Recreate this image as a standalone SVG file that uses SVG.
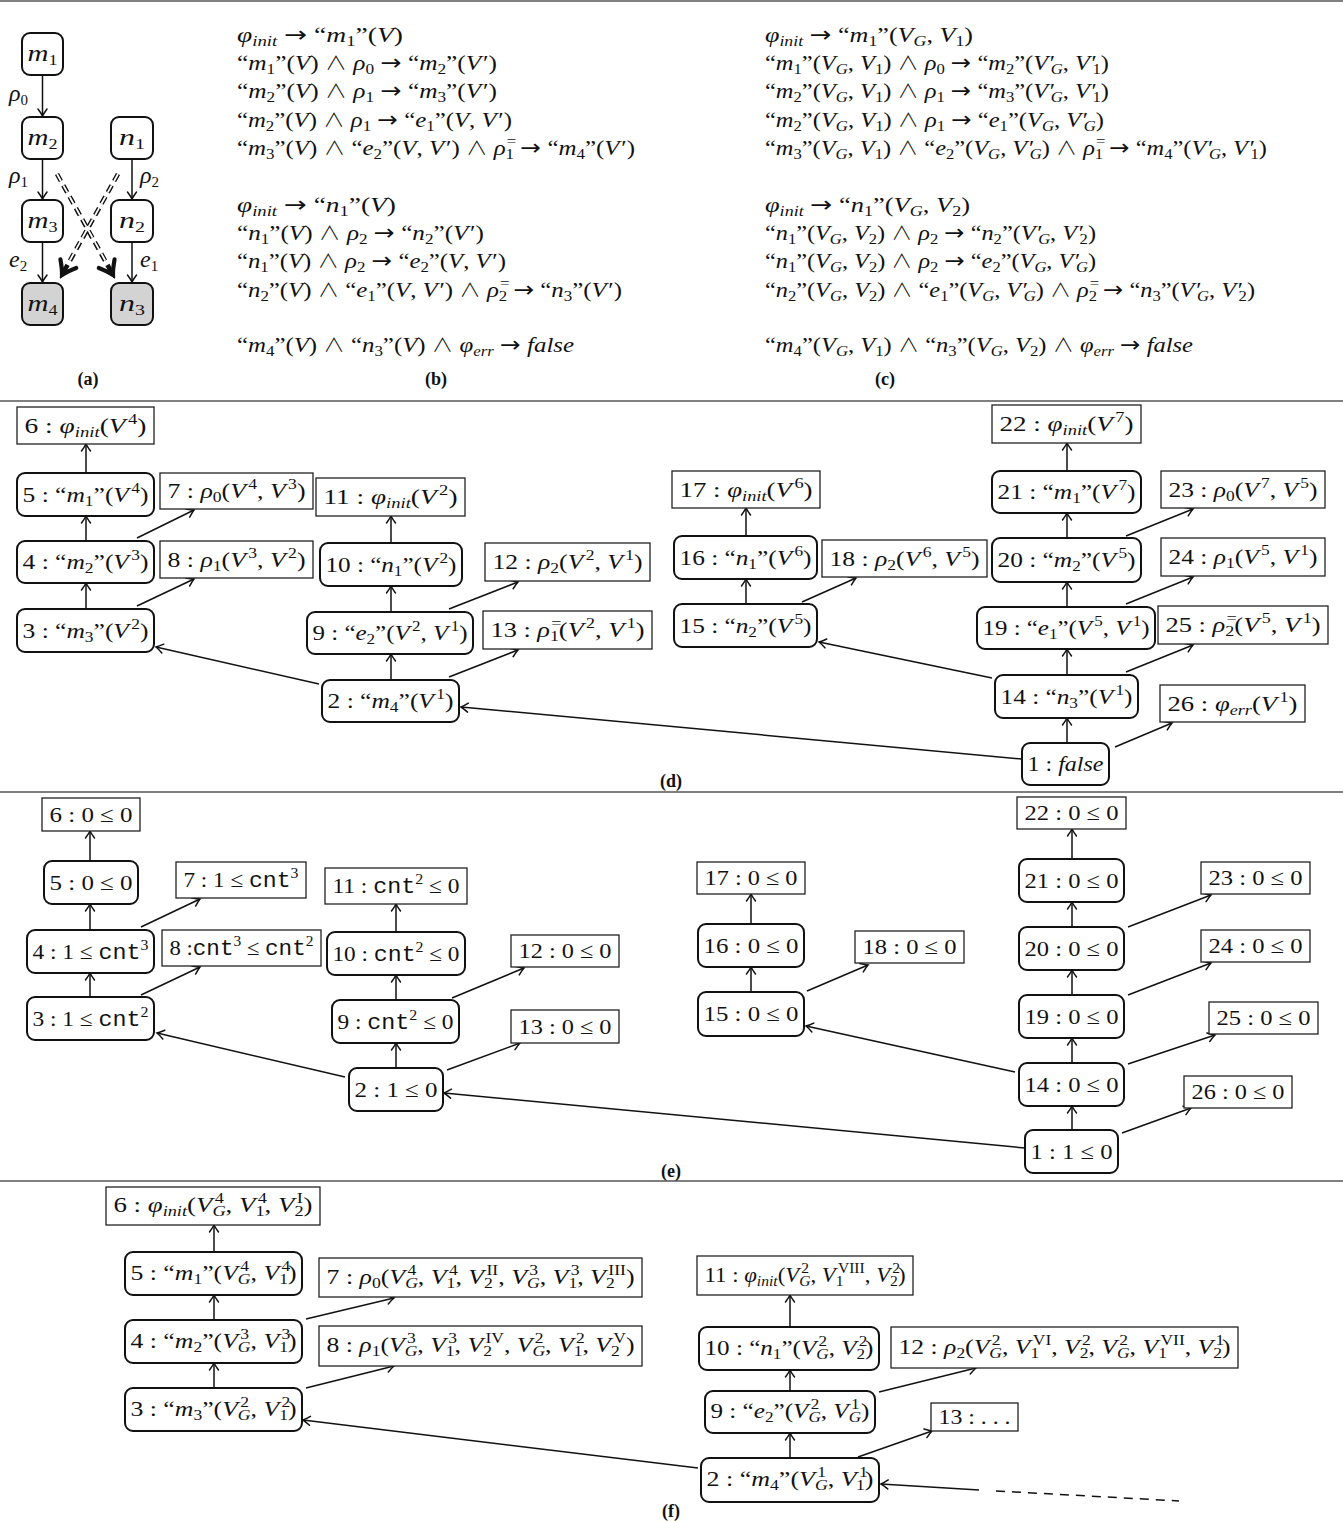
<svg xmlns="http://www.w3.org/2000/svg" width="1343" height="1521" viewBox="0 0 1343 1521">
<defs>
<style>
.t{font-family:"Liberation Serif","DejaVu Serif",serif;font-size:22px;fill:#111}
.ta{font-family:"Liberation Serif","DejaVu Serif",serif;font-size:24px;fill:#111}
.i{font-style:italic}
.sb{font-size:15px;baseline-shift:-4px}
.sp{font-size:15px;baseline-shift:9px}
.op{font-family:"Noto Sans CJK SC","DejaVu Sans",sans-serif;font-weight:300;font-size:19px}
.ar{font-family:"DejaVu Sans",sans-serif;font-weight:normal}
.tt{font-family:"Liberation Mono","DejaVu Sans Mono",monospace}
.cap{font-family:"Liberation Serif","DejaVu Serif",serif;font-weight:bold;font-size:18px;fill:#111}
.sep{stroke:#555;stroke-width:1.3}
.rb{fill:#fff;stroke:#111;stroke-width:2}
.sq{fill:#fff;stroke:#222;stroke-width:1.3}
.gr{fill:#d3d3d3;stroke:#111;stroke-width:2}
.e{stroke:#111;stroke-width:1.5;fill:none;marker-end:url(#ah)}
.dblk{stroke:#111;stroke-width:4.6;stroke-dasharray:8 5;fill:none}
.dblw{stroke:#fff;stroke-width:1.8;stroke-dasharray:8 5;fill:none}
</style>
<marker id="ah" viewBox="-10 -6 12 12" refX="0" refY="0" markerWidth="12" markerHeight="12" markerUnits="userSpaceOnUse" orient="auto"><path d="M-7,-4.5 Q-2.5,-1.2 0,0 Q-2.5,1.2 -7,4.5" fill="none" stroke="#111" stroke-width="1.5" stroke-linecap="round"/></marker>
<marker id="ahb" viewBox="-16 -12 20 24" refX="0" refY="0" markerWidth="20" markerHeight="24" markerUnits="userSpaceOnUse" orient="auto"><path d="M-13,-9 Q-5,-2.5 0,0 Q-5,2.5 -13,9" fill="none" stroke="#111" stroke-width="4.2" stroke-linecap="round"/></marker>
</defs>
<rect width="1343" height="1521" fill="#fff"/>
<g id="separators">
<line class="sep" x1="0" y1="1" x2="1343" y2="1"/>
<line class="sep" x1="0" y1="401" x2="1343" y2="401"/>
<line class="sep" x1="0" y1="792" x2="1343" y2="792"/>
<line class="sep" x1="0" y1="1181" x2="1343" y2="1181"/>
</g>

<!-- Panel (a) -->
<g id="a-m1"><rect class="rb" x="22" y="33" width="41" height="42" rx="8"/><text class="ta" x="42.5" y="61" text-anchor="middle" textLength="30" lengthAdjust="spacingAndGlyphs"><tspan class="i">m</tspan><tspan class="sb">1</tspan></text></g>
<g id="a-m2"><rect class="rb" x="22" y="117" width="41" height="42" rx="8"/><text class="ta" x="42.5" y="145" text-anchor="middle" textLength="30" lengthAdjust="spacingAndGlyphs"><tspan class="i">m</tspan><tspan class="sb">2</tspan></text></g>
<g id="a-n1"><rect class="rb" x="111" y="117" width="42" height="42" rx="8"/><text class="ta" x="132" y="145" text-anchor="middle" textLength="26" lengthAdjust="spacingAndGlyphs"><tspan class="i">n</tspan><tspan class="sb">1</tspan></text></g>
<g id="a-m3"><rect class="rb" x="22" y="200" width="41" height="42" rx="8"/><text class="ta" x="42.5" y="228" text-anchor="middle" textLength="30" lengthAdjust="spacingAndGlyphs"><tspan class="i">m</tspan><tspan class="sb">3</tspan></text></g>
<g id="a-n2"><rect class="rb" x="111" y="200" width="42" height="42" rx="8"/><text class="ta" x="132" y="228" text-anchor="middle" textLength="26" lengthAdjust="spacingAndGlyphs"><tspan class="i">n</tspan><tspan class="sb">2</tspan></text></g>
<g id="a-m4"><rect class="gr" x="22" y="283" width="41" height="42" rx="8"/><text class="ta" x="42.5" y="311" text-anchor="middle" textLength="30" lengthAdjust="spacingAndGlyphs"><tspan class="i">m</tspan><tspan class="sb">4</tspan></text></g>
<g id="a-n3"><rect class="gr" x="111" y="283" width="42" height="42" rx="8"/><text class="ta" x="132" y="311" text-anchor="middle" textLength="26" lengthAdjust="spacingAndGlyphs"><tspan class="i">n</tspan><tspan class="sb">3</tspan></text></g>
<g id="a-labels">
<text class="ta" x="9" y="101"><tspan class="i">ρ</tspan><tspan class="sb">0</tspan></text>
<text class="ta" x="9" y="183"><tspan class="i">ρ</tspan><tspan class="sb">1</tspan></text>
<text class="ta" x="9" y="267"><tspan class="i">e</tspan><tspan class="sb">2</tspan></text>
<text class="ta" x="140" y="183"><tspan class="i">ρ</tspan><tspan class="sb">2</tspan></text>
<text class="ta" x="140" y="267"><tspan class="i">e</tspan><tspan class="sb">1</tspan></text>
</g>

<!-- Panel (b) -->
<g id="b-rules">
<text class="t" x="237" y="42" textLength="166" lengthAdjust="spacingAndGlyphs"><tspan class="i">φ</tspan><tspan class="sb i">init</tspan> <tspan class="ar">→</tspan> “<tspan class="i">m</tspan><tspan class="sb">1</tspan>”(<tspan class="i">V</tspan>)</text>
<text class="t" x="237" y="70" textLength="260" lengthAdjust="spacingAndGlyphs">“<tspan class="i">m</tspan><tspan class="sb">1</tspan>”(<tspan class="i">V</tspan>) <tspan class="op">∧</tspan> <tspan class="i">ρ</tspan><tspan class="sb">0</tspan> <tspan class="ar">→</tspan> “<tspan class="i">m</tspan><tspan class="sb">2</tspan>”(<tspan class="i">V</tspan><tspan dx="1.5">′</tspan>)</text>
<text class="t" x="237" y="98" textLength="260" lengthAdjust="spacingAndGlyphs">“<tspan class="i">m</tspan><tspan class="sb">2</tspan>”(<tspan class="i">V</tspan>) <tspan class="op">∧</tspan> <tspan class="i">ρ</tspan><tspan class="sb">1</tspan> <tspan class="ar">→</tspan> “<tspan class="i">m</tspan><tspan class="sb">3</tspan>”(<tspan class="i">V</tspan><tspan dx="1.5">′</tspan>)</text>
<text class="t" x="237" y="127" textLength="275" lengthAdjust="spacingAndGlyphs">“<tspan class="i">m</tspan><tspan class="sb">2</tspan>”(<tspan class="i">V</tspan>) <tspan class="op">∧</tspan> <tspan class="i">ρ</tspan><tspan class="sb">1</tspan> <tspan class="ar">→</tspan> “<tspan class="i">e</tspan><tspan class="sb">1</tspan>”(<tspan class="i">V</tspan>, <tspan class="i">V</tspan><tspan dx="1.5">′</tspan>)</text>
<text class="t" x="237" y="155" textLength="398" lengthAdjust="spacingAndGlyphs">“<tspan class="i">m</tspan><tspan class="sb">3</tspan>”(<tspan class="i">V</tspan>) <tspan class="op">∧</tspan> “<tspan class="i">e</tspan><tspan class="sb">2</tspan>”(<tspan class="i">V</tspan>, <tspan class="i">V</tspan><tspan dx="1.5">′</tspan>) <tspan class="op">∧</tspan> <tspan class="i">ρ</tspan><tspan class="sp" dx="1">=</tspan><tspan class="sb" dx="-9.5">1</tspan> <tspan class="ar">→</tspan> “<tspan class="i">m</tspan><tspan class="sb">4</tspan>”(<tspan class="i">V</tspan><tspan dx="1.5">′</tspan>)</text>
<text class="t" x="237" y="212" textLength="159" lengthAdjust="spacingAndGlyphs"><tspan class="i">φ</tspan><tspan class="sb i">init</tspan> <tspan class="ar">→</tspan> “<tspan class="i">n</tspan><tspan class="sb">1</tspan>”(<tspan class="i">V</tspan>)</text>
<text class="t" x="237" y="240" textLength="247" lengthAdjust="spacingAndGlyphs">“<tspan class="i">n</tspan><tspan class="sb">1</tspan>”(<tspan class="i">V</tspan>) <tspan class="op">∧</tspan> <tspan class="i">ρ</tspan><tspan class="sb">2</tspan> <tspan class="ar">→</tspan> “<tspan class="i">n</tspan><tspan class="sb">2</tspan>”(<tspan class="i">V</tspan><tspan dx="1.5">′</tspan>)</text>
<text class="t" x="237" y="268" textLength="269" lengthAdjust="spacingAndGlyphs">“<tspan class="i">n</tspan><tspan class="sb">1</tspan>”(<tspan class="i">V</tspan>) <tspan class="op">∧</tspan> <tspan class="i">ρ</tspan><tspan class="sb">2</tspan> <tspan class="ar">→</tspan> “<tspan class="i">e</tspan><tspan class="sb">2</tspan>”(<tspan class="i">V</tspan>, <tspan class="i">V</tspan><tspan dx="1.5">′</tspan>)</text>
<text class="t" x="237" y="297" textLength="385" lengthAdjust="spacingAndGlyphs">“<tspan class="i">n</tspan><tspan class="sb">2</tspan>”(<tspan class="i">V</tspan>) <tspan class="op">∧</tspan> “<tspan class="i">e</tspan><tspan class="sb">1</tspan>”(<tspan class="i">V</tspan>, <tspan class="i">V</tspan><tspan dx="1.5">′</tspan>) <tspan class="op">∧</tspan> <tspan class="i">ρ</tspan><tspan class="sp" dx="1">=</tspan><tspan class="sb" dx="-9.5">2</tspan> <tspan class="ar">→</tspan> “<tspan class="i">n</tspan><tspan class="sb">3</tspan>”(<tspan class="i">V</tspan><tspan dx="1.5">′</tspan>)</text>
<text class="t" x="237" y="352" textLength="337" lengthAdjust="spacingAndGlyphs">“<tspan class="i">m</tspan><tspan class="sb">4</tspan>”(<tspan class="i">V</tspan>) <tspan class="op">∧</tspan> “<tspan class="i">n</tspan><tspan class="sb">3</tspan>”(<tspan class="i">V</tspan>) <tspan class="op">∧</tspan> <tspan class="i">φ</tspan><tspan class="sb i">err</tspan> <tspan class="ar">→</tspan> <tspan class="i">false</tspan></text>
</g>

<!-- Panel (c) -->
<g id="c-rules">
<text class="t" x="765" y="42" textLength="208" lengthAdjust="spacingAndGlyphs"><tspan class="i">φ</tspan><tspan class="sb i">init</tspan> <tspan class="ar">→</tspan> “<tspan class="i">m</tspan><tspan class="sb">1</tspan>”(<tspan class="i">V</tspan><tspan class="sb i">G</tspan>, <tspan class="i">V</tspan><tspan class="sb">1</tspan>)</text>
<text class="t" x="765" y="70" textLength="344" lengthAdjust="spacingAndGlyphs">“<tspan class="i">m</tspan><tspan class="sb">1</tspan>”(<tspan class="i">V</tspan><tspan class="sb i">G</tspan>, <tspan class="i">V</tspan><tspan class="sb">1</tspan>) <tspan class="op">∧</tspan> <tspan class="i">ρ</tspan><tspan class="sb">0</tspan> <tspan class="ar">→</tspan> “<tspan class="i">m</tspan><tspan class="sb">2</tspan>”(<tspan class="i">V</tspan><tspan dx="1.5">′</tspan><tspan class="sb i" dx="-4">G</tspan>, <tspan class="i">V</tspan><tspan dx="1.5">′</tspan><tspan class="sb" dx="-4">1</tspan>)</text>
<text class="t" x="765" y="98" textLength="344" lengthAdjust="spacingAndGlyphs">“<tspan class="i">m</tspan><tspan class="sb">2</tspan>”(<tspan class="i">V</tspan><tspan class="sb i">G</tspan>, <tspan class="i">V</tspan><tspan class="sb">1</tspan>) <tspan class="op">∧</tspan> <tspan class="i">ρ</tspan><tspan class="sb">1</tspan> <tspan class="ar">→</tspan> “<tspan class="i">m</tspan><tspan class="sb">3</tspan>”(<tspan class="i">V</tspan><tspan dx="1.5">′</tspan><tspan class="sb i" dx="-4">G</tspan>, <tspan class="i">V</tspan><tspan dx="1.5">′</tspan><tspan class="sb" dx="-4">1</tspan>)</text>
<text class="t" x="765" y="127" textLength="339" lengthAdjust="spacingAndGlyphs">“<tspan class="i">m</tspan><tspan class="sb">2</tspan>”(<tspan class="i">V</tspan><tspan class="sb i">G</tspan>, <tspan class="i">V</tspan><tspan class="sb">1</tspan>) <tspan class="op">∧</tspan> <tspan class="i">ρ</tspan><tspan class="sb">1</tspan> <tspan class="ar">→</tspan> “<tspan class="i">e</tspan><tspan class="sb">1</tspan>”(<tspan class="i">V</tspan><tspan class="sb i">G</tspan>, <tspan class="i">V</tspan><tspan dx="1.5">′</tspan><tspan class="sb i" dx="-4">G</tspan>)</text>
<text class="t" x="765" y="155" textLength="502" lengthAdjust="spacingAndGlyphs">“<tspan class="i">m</tspan><tspan class="sb">3</tspan>”(<tspan class="i">V</tspan><tspan class="sb i">G</tspan>, <tspan class="i">V</tspan><tspan class="sb">1</tspan>) <tspan class="op">∧</tspan> “<tspan class="i">e</tspan><tspan class="sb">2</tspan>”(<tspan class="i">V</tspan><tspan class="sb i">G</tspan>, <tspan class="i">V</tspan><tspan dx="1.5">′</tspan><tspan class="sb i" dx="-4">G</tspan>) <tspan class="op">∧</tspan> <tspan class="i">ρ</tspan><tspan class="sp" dx="1">=</tspan><tspan class="sb" dx="-9.5">1</tspan> <tspan class="ar">→</tspan> “<tspan class="i">m</tspan><tspan class="sb">4</tspan>”(<tspan class="i">V</tspan><tspan dx="1.5">′</tspan><tspan class="sb i" dx="-4">G</tspan>, <tspan class="i">V</tspan><tspan dx="1.5">′</tspan><tspan class="sb" dx="-4">1</tspan>)</text>
<text class="t" x="765" y="212" textLength="205" lengthAdjust="spacingAndGlyphs"><tspan class="i">φ</tspan><tspan class="sb i">init</tspan> <tspan class="ar">→</tspan> “<tspan class="i">n</tspan><tspan class="sb">1</tspan>”(<tspan class="i">V</tspan><tspan class="sb i">G</tspan>, <tspan class="i">V</tspan><tspan class="sb">2</tspan>)</text>
<text class="t" x="765" y="240" textLength="331" lengthAdjust="spacingAndGlyphs">“<tspan class="i">n</tspan><tspan class="sb">1</tspan>”(<tspan class="i">V</tspan><tspan class="sb i">G</tspan>, <tspan class="i">V</tspan><tspan class="sb">2</tspan>) <tspan class="op">∧</tspan> <tspan class="i">ρ</tspan><tspan class="sb">2</tspan> <tspan class="ar">→</tspan> “<tspan class="i">n</tspan><tspan class="sb">2</tspan>”(<tspan class="i">V</tspan><tspan dx="1.5">′</tspan><tspan class="sb i" dx="-4">G</tspan>, <tspan class="i">V</tspan><tspan dx="1.5">′</tspan><tspan class="sb" dx="-4">2</tspan>)</text>
<text class="t" x="765" y="268" textLength="331" lengthAdjust="spacingAndGlyphs">“<tspan class="i">n</tspan><tspan class="sb">1</tspan>”(<tspan class="i">V</tspan><tspan class="sb i">G</tspan>, <tspan class="i">V</tspan><tspan class="sb">2</tspan>) <tspan class="op">∧</tspan> <tspan class="i">ρ</tspan><tspan class="sb">2</tspan> <tspan class="ar">→</tspan> “<tspan class="i">e</tspan><tspan class="sb">2</tspan>”(<tspan class="i">V</tspan><tspan class="sb i">G</tspan>, <tspan class="i">V</tspan><tspan dx="1.5">′</tspan><tspan class="sb i" dx="-4">G</tspan>)</text>
<text class="t" x="765" y="297" textLength="490" lengthAdjust="spacingAndGlyphs">“<tspan class="i">n</tspan><tspan class="sb">2</tspan>”(<tspan class="i">V</tspan><tspan class="sb i">G</tspan>, <tspan class="i">V</tspan><tspan class="sb">2</tspan>) <tspan class="op">∧</tspan> “<tspan class="i">e</tspan><tspan class="sb">1</tspan>”(<tspan class="i">V</tspan><tspan class="sb i">G</tspan>, <tspan class="i">V</tspan><tspan dx="1.5">′</tspan><tspan class="sb i" dx="-4">G</tspan>) <tspan class="op">∧</tspan> <tspan class="i">ρ</tspan><tspan class="sp" dx="1">=</tspan><tspan class="sb" dx="-9.5">2</tspan> <tspan class="ar">→</tspan> “<tspan class="i">n</tspan><tspan class="sb">3</tspan>”(<tspan class="i">V</tspan><tspan dx="1.5">′</tspan><tspan class="sb i" dx="-4">G</tspan>, <tspan class="i">V</tspan><tspan dx="1.5">′</tspan><tspan class="sb" dx="-4">2</tspan>)</text>
<text class="t" x="765" y="352" textLength="428" lengthAdjust="spacingAndGlyphs">“<tspan class="i">m</tspan><tspan class="sb">4</tspan>”(<tspan class="i">V</tspan><tspan class="sb i">G</tspan>, <tspan class="i">V</tspan><tspan class="sb">1</tspan>) <tspan class="op">∧</tspan> “<tspan class="i">n</tspan><tspan class="sb">3</tspan>”(<tspan class="i">V</tspan><tspan class="sb i">G</tspan>, <tspan class="i">V</tspan><tspan class="sb">2</tspan>) <tspan class="op">∧</tspan> <tspan class="i">φ</tspan><tspan class="sb i">err</tspan> <tspan class="ar">→</tspan> <tspan class="i">false</tspan></text>
</g>

<g id="captions">
<text class="cap" x="88" y="385" text-anchor="middle">(a)</text>
<text class="cap" x="436" y="385" text-anchor="middle">(b)</text>
<text class="cap" x="885" y="385" text-anchor="middle">(c)</text>
<text class="cap" x="671" y="787" text-anchor="middle">(d)</text>
<text class="cap" x="671" y="1177" text-anchor="middle">(e)</text>
<text class="cap" x="671" y="1517" text-anchor="middle">(f)</text>
</g>

<!-- Connectors -->
<g id="connectors">
<line class="e" x1="42.5" y1="75" x2="42.5" y2="116"/>
<line class="e" x1="42.5" y1="159" x2="42.5" y2="199"/>
<line class="e" x1="42.5" y1="242" x2="42.5" y2="282"/>
<line class="e" x1="132" y1="159" x2="132" y2="199"/>
<line class="e" x1="132" y1="242" x2="132" y2="282"/>
<line class="dblk" x1="57" y1="174" x2="113" y2="275" marker-end="url(#ahb)"/>
<line class="dblw" x1="57" y1="174" x2="106" y2="262"/>
<line class="dblk" x1="118" y1="174" x2="62" y2="275" marker-end="url(#ahb)"/>
<line class="dblw" x1="118" y1="174" x2="69" y2="262"/>

<line class="e" x1="86" y1="473" x2="86" y2="444"/>
<line class="e" x1="86" y1="541" x2="86" y2="516"/>
<line class="e" x1="86" y1="609" x2="86" y2="583"/>
<line class="e" x1="137" y1="538" x2="194" y2="510"/>
<line class="e" x1="137" y1="606" x2="194" y2="579"/>
<line class="e" x1="391" y1="543" x2="391" y2="516"/>
<line class="e" x1="391" y1="612" x2="391" y2="586"/>
<line class="e" x1="449" y1="609" x2="518" y2="582"/>
<line class="e" x1="391" y1="680" x2="391" y2="654"/>
<line class="e" x1="449" y1="677" x2="518" y2="650"/>
<line class="e" x1="319" y1="684" x2="156" y2="647"/>
<line class="e" x1="1022" y1="759" x2="461" y2="707"/>
<line class="e" x1="746" y1="536" x2="746" y2="508"/>
<line class="e" x1="746" y1="604" x2="746" y2="579"/>
<line class="e" x1="802" y1="602" x2="856" y2="578"/>
<line class="e" x1="1067" y1="471" x2="1067" y2="443"/>
<line class="e" x1="1067" y1="538" x2="1067" y2="513"/>
<line class="e" x1="1126" y1="536" x2="1193" y2="509"/>
<line class="e" x1="1067" y1="607" x2="1067" y2="582"/>
<line class="e" x1="1126" y1="604" x2="1193" y2="577"/>
<line class="e" x1="1067" y1="675" x2="1067" y2="649"/>
<line class="e" x1="1126" y1="672" x2="1193" y2="645"/>
<line class="e" x1="992" y1="678" x2="819" y2="642"/>
<line class="e" x1="1067" y1="743" x2="1067" y2="718"/>
<line class="e" x1="1115" y1="747" x2="1172" y2="723"/>

<line class="e" x1="90" y1="861" x2="90" y2="831"/>
<line class="e" x1="90" y1="930" x2="90" y2="904"/>
<line class="e" x1="90" y1="997" x2="90" y2="973"/>
<line class="e" x1="141" y1="927" x2="200" y2="899"/>
<line class="e" x1="141" y1="995" x2="200" y2="967"/>
<line class="e" x1="396" y1="932" x2="396" y2="904"/>
<line class="e" x1="396" y1="1000" x2="396" y2="975"/>
<line class="e" x1="452" y1="998" x2="524" y2="968"/>
<line class="e" x1="396" y1="1068" x2="396" y2="1043"/>
<line class="e" x1="447" y1="1070" x2="520" y2="1043"/>
<line class="e" x1="345" y1="1077" x2="157" y2="1033"/>
<line class="e" x1="1025" y1="1148" x2="444" y2="1093"/>
<line class="e" x1="751" y1="924" x2="751" y2="894"/>
<line class="e" x1="751" y1="992" x2="751" y2="967"/>
<line class="e" x1="807" y1="991" x2="868" y2="965"/>
<line class="e" x1="1072" y1="859" x2="1072" y2="829"/>
<line class="e" x1="1072" y1="927" x2="1072" y2="902"/>
<line class="e" x1="1128" y1="927" x2="1211" y2="895"/>
<line class="e" x1="1072" y1="995" x2="1072" y2="970"/>
<line class="e" x1="1128" y1="995" x2="1211" y2="963"/>
<line class="e" x1="1072" y1="1063" x2="1072" y2="1038"/>
<line class="e" x1="1128" y1="1064" x2="1215" y2="1035"/>
<line class="e" x1="1015" y1="1072" x2="806" y2="1026"/>
<line class="e" x1="1072" y1="1130" x2="1072" y2="1106"/>
<line class="e" x1="1122" y1="1133" x2="1191" y2="1108"/>

<line class="e" x1="214" y1="1252" x2="214" y2="1225"/>
<line class="e" x1="214" y1="1320" x2="214" y2="1295"/>
<line class="e" x1="214" y1="1388" x2="214" y2="1363"/>
<line class="e" x1="306" y1="1319" x2="394" y2="1298"/>
<line class="e" x1="306" y1="1388" x2="394" y2="1366"/>
<line class="e" x1="698" y1="1468" x2="303" y2="1420"/>
<line class="e" x1="790" y1="1327" x2="790" y2="1295"/>
<line class="e" x1="790" y1="1391" x2="790" y2="1370"/>
<line class="e" x1="790" y1="1458" x2="790" y2="1433"/>
<line class="e" x1="879" y1="1392" x2="976" y2="1368"/>
<line class="e" x1="858" y1="1457" x2="932" y2="1431"/>
<line class="e" x1="979" y1="1490" x2="881" y2="1484"/>
<line x1="996" y1="1491" x2="1179" y2="1501" stroke="#111" stroke-width="1.5" stroke-dasharray="9 7"/>
</g>

<!-- Panel (d) nodes -->
<g id="d6"><rect class="sq" x="17" y="407" width="137" height="37"/><text class="t" x="85.5" y="432.5" text-anchor="middle" textLength="122" lengthAdjust="spacingAndGlyphs">6 : <tspan class="i">φ</tspan><tspan class="sb i">init</tspan>(<tspan class="i">V</tspan><tspan class="sp" dx="2">4</tspan>)</text></g>
<g id="d5"><rect class="rb" x="17" y="473" width="137" height="43" rx="8"/><text class="t" x="85.5" y="501.5" text-anchor="middle" textLength="126" lengthAdjust="spacingAndGlyphs">5 : “<tspan class="i">m</tspan><tspan class="sb">1</tspan>”(<tspan class="i">V</tspan><tspan class="sp" dx="2">4</tspan>)</text></g>
<g id="d7"><rect class="sq" x="160" y="473" width="153" height="36"/><text class="t" x="236.5" y="498" text-anchor="middle" textLength="138" lengthAdjust="spacingAndGlyphs">7 : <tspan class="i">ρ</tspan><tspan class="sb">0</tspan>(<tspan class="i">V</tspan><tspan class="sp" dx="2">4</tspan>, <tspan class="i">V</tspan><tspan class="sp" dx="2">3</tspan>)</text></g>
<g id="d11"><rect class="sq" x="316" y="478" width="149" height="38"/><text class="t" x="390.5" y="504" text-anchor="middle" textLength="134" lengthAdjust="spacingAndGlyphs">11 : <tspan class="i">φ</tspan><tspan class="sb i">init</tspan>(<tspan class="i">V</tspan><tspan class="sp" dx="2">2</tspan>)</text></g>
<g id="d4"><rect class="rb" x="17" y="541" width="137" height="42" rx="8"/><text class="t" x="85.5" y="569" text-anchor="middle" textLength="126" lengthAdjust="spacingAndGlyphs">4 : “<tspan class="i">m</tspan><tspan class="sb">2</tspan>”(<tspan class="i">V</tspan><tspan class="sp" dx="2">3</tspan>)</text></g>
<g id="d8"><rect class="sq" x="160" y="541" width="153" height="37"/><text class="t" x="236.5" y="566.5" text-anchor="middle" textLength="138" lengthAdjust="spacingAndGlyphs">8 : <tspan class="i">ρ</tspan><tspan class="sb">1</tspan>(<tspan class="i">V</tspan><tspan class="sp" dx="2">3</tspan>, <tspan class="i">V</tspan><tspan class="sp" dx="2">2</tspan>)</text></g>
<g id="d10"><rect class="rb" x="320" y="543" width="142" height="43" rx="8"/><text class="t" x="391" y="571.5" text-anchor="middle" textLength="131" lengthAdjust="spacingAndGlyphs">10 : “<tspan class="i">n</tspan><tspan class="sb">1</tspan>”(<tspan class="i">V</tspan><tspan class="sp" dx="2">2</tspan>)</text></g>
<g id="d12"><rect class="sq" x="485" y="543" width="165" height="38"/><text class="t" x="567.5" y="569" text-anchor="middle" textLength="150" lengthAdjust="spacingAndGlyphs">12 : <tspan class="i">ρ</tspan><tspan class="sb">2</tspan>(<tspan class="i">V</tspan><tspan class="sp" dx="2">2</tspan>, <tspan class="i">V</tspan><tspan class="sp" dx="2">1</tspan>)</text></g>
<g id="d3"><rect class="rb" x="17" y="609" width="137" height="43" rx="8"/><text class="t" x="85.5" y="637.5" text-anchor="middle" textLength="126" lengthAdjust="spacingAndGlyphs">3 : “<tspan class="i">m</tspan><tspan class="sb">3</tspan>”(<tspan class="i">V</tspan><tspan class="sp" dx="2">2</tspan>)</text></g>
<g id="d9"><rect class="rb" x="307" y="612" width="166" height="42" rx="8"/><text class="t" x="390" y="640" text-anchor="middle" textLength="155" lengthAdjust="spacingAndGlyphs">9 : “<tspan class="i">e</tspan><tspan class="sb">2</tspan>”(<tspan class="i">V</tspan><tspan class="sp" dx="2">2</tspan>, <tspan class="i">V</tspan><tspan class="sp" dx="2">1</tspan>)</text></g>
<g id="d13"><rect class="sq" x="483" y="611" width="169" height="38"/><text class="t" x="567.5" y="637" text-anchor="middle" textLength="154" lengthAdjust="spacingAndGlyphs">13 : <tspan class="i">ρ</tspan><tspan class="sp" dx="1">=</tspan><tspan class="sb" dx="-9.5">1</tspan>(<tspan class="i">V</tspan><tspan class="sp" dx="2">2</tspan>, <tspan class="i">V</tspan><tspan class="sp" dx="2">1</tspan>)</text></g>
<g id="d2"><rect class="rb" x="322" y="680" width="137" height="42" rx="8"/><text class="t" x="390.5" y="708" text-anchor="middle" textLength="126" lengthAdjust="spacingAndGlyphs">2 : “<tspan class="i">m</tspan><tspan class="sb">4</tspan>”(<tspan class="i">V</tspan><tspan class="sp" dx="2">1</tspan>)</text></g>
<g id="d17"><rect class="sq" x="672" y="471" width="148" height="37"/><text class="t" x="746" y="496.5" text-anchor="middle" textLength="133" lengthAdjust="spacingAndGlyphs">17 : <tspan class="i">φ</tspan><tspan class="sb i">init</tspan>(<tspan class="i">V</tspan><tspan class="sp" dx="2">6</tspan>)</text></g>
<g id="d16"><rect class="rb" x="674" y="536" width="143" height="43" rx="8"/><text class="t" x="745.5" y="564.5" text-anchor="middle" textLength="132" lengthAdjust="spacingAndGlyphs">16 : “<tspan class="i">n</tspan><tspan class="sb">1</tspan>”(<tspan class="i">V</tspan><tspan class="sp" dx="2">6</tspan>)</text></g>
<g id="d18"><rect class="sq" x="822" y="540" width="165" height="37"/><text class="t" x="904.5" y="565.5" text-anchor="middle" textLength="150" lengthAdjust="spacingAndGlyphs">18 : <tspan class="i">ρ</tspan><tspan class="sb">2</tspan>(<tspan class="i">V</tspan><tspan class="sp" dx="2">6</tspan>, <tspan class="i">V</tspan><tspan class="sp" dx="2">5</tspan>)</text></g>
<g id="d15"><rect class="rb" x="674" y="604" width="143" height="43" rx="8"/><text class="t" x="745.5" y="632.5" text-anchor="middle" textLength="132" lengthAdjust="spacingAndGlyphs">15 : “<tspan class="i">n</tspan><tspan class="sb">2</tspan>”(<tspan class="i">V</tspan><tspan class="sp" dx="2">5</tspan>)</text></g>
<g id="d22"><rect class="sq" x="992" y="405" width="149" height="38"/><text class="t" x="1066.5" y="431" text-anchor="middle" textLength="134" lengthAdjust="spacingAndGlyphs">22 : <tspan class="i">φ</tspan><tspan class="sb i">init</tspan>(<tspan class="i">V</tspan><tspan class="sp" dx="2">7</tspan>)</text></g>
<g id="d21"><rect class="rb" x="992" y="471" width="149" height="42" rx="8"/><text class="t" x="1066.5" y="499" text-anchor="middle" textLength="138" lengthAdjust="spacingAndGlyphs">21 : “<tspan class="i">m</tspan><tspan class="sb">1</tspan>”(<tspan class="i">V</tspan><tspan class="sp" dx="2">7</tspan>)</text></g>
<g id="d23"><rect class="sq" x="1161" y="471" width="164" height="37"/><text class="t" x="1243" y="496.5" text-anchor="middle" textLength="149" lengthAdjust="spacingAndGlyphs">23 : <tspan class="i">ρ</tspan><tspan class="sb">0</tspan>(<tspan class="i">V</tspan><tspan class="sp" dx="2">7</tspan>, <tspan class="i">V</tspan><tspan class="sp" dx="2">5</tspan>)</text></g>
<g id="d20"><rect class="rb" x="992" y="538" width="149" height="44" rx="8"/><text class="t" x="1066.5" y="567" text-anchor="middle" textLength="138" lengthAdjust="spacingAndGlyphs">20 : “<tspan class="i">m</tspan><tspan class="sb">2</tspan>”(<tspan class="i">V</tspan><tspan class="sp" dx="2">5</tspan>)</text></g>
<g id="d24"><rect class="sq" x="1161" y="538" width="164" height="38"/><text class="t" x="1243" y="564" text-anchor="middle" textLength="149" lengthAdjust="spacingAndGlyphs">24 : <tspan class="i">ρ</tspan><tspan class="sb">1</tspan>(<tspan class="i">V</tspan><tspan class="sp" dx="2">5</tspan>, <tspan class="i">V</tspan><tspan class="sp" dx="2">1</tspan>)</text></g>
<g id="d19"><rect class="rb" x="977" y="607" width="178" height="42" rx="8"/><text class="t" x="1066" y="635" text-anchor="middle" textLength="167" lengthAdjust="spacingAndGlyphs">19 : “<tspan class="i">e</tspan><tspan class="sb">1</tspan>”(<tspan class="i">V</tspan><tspan class="sp" dx="2">5</tspan>, <tspan class="i">V</tspan><tspan class="sp" dx="2">1</tspan>)</text></g>
<g id="d25"><rect class="sq" x="1158" y="606" width="170" height="38"/><text class="t" x="1243" y="632" text-anchor="middle" textLength="155" lengthAdjust="spacingAndGlyphs">25 : <tspan class="i">ρ</tspan><tspan class="sp" dx="1">=</tspan><tspan class="sb" dx="-9.5">2</tspan>(<tspan class="i">V</tspan><tspan class="sp" dx="2">5</tspan>, <tspan class="i">V</tspan><tspan class="sp" dx="2">1</tspan>)</text></g>
<g id="d14"><rect class="rb" x="995" y="675" width="143" height="43" rx="8"/><text class="t" x="1066.5" y="703.5" text-anchor="middle" textLength="132" lengthAdjust="spacingAndGlyphs">14 : “<tspan class="i">n</tspan><tspan class="sb">3</tspan>”(<tspan class="i">V</tspan><tspan class="sp" dx="2">1</tspan>)</text></g>
<g id="d26"><rect class="sq" x="1160" y="685" width="145" height="37"/><text class="t" x="1232.5" y="710.5" text-anchor="middle" textLength="130" lengthAdjust="spacingAndGlyphs">26 : <tspan class="i">φ</tspan><tspan class="sb i">err</tspan>(<tspan class="i">V</tspan><tspan class="sp" dx="2">1</tspan>)</text></g>
<g id="d1"><rect class="rb" x="1022" y="743" width="87" height="42" rx="8"/><text class="t" x="1065.5" y="771" text-anchor="middle" textLength="76" lengthAdjust="spacingAndGlyphs">1 : <tspan class="i">false</tspan></text></g>

<!-- Panel (e) nodes -->
<g id="e6"><rect class="sq" x="42" y="798" width="98" height="33"/><text class="t" x="91" y="821.5" text-anchor="middle" textLength="83" lengthAdjust="spacingAndGlyphs">6 : 0 ≤ 0</text></g>
<g id="e5"><rect class="rb" x="44" y="861" width="94" height="43" rx="8"/><text class="t" x="91" y="889.5" text-anchor="middle" textLength="83" lengthAdjust="spacingAndGlyphs">5 : 0 ≤ 0</text></g>
<g id="e7"><rect class="sq" x="176" y="862" width="130" height="36"/><text class="t" x="241" y="887" text-anchor="middle" textLength="115" lengthAdjust="spacingAndGlyphs">7 : 1 ≤ <tspan class="tt">cnt</tspan><tspan class="sp">3</tspan></text></g>
<g id="e11"><rect class="sq" x="325" y="868" width="142" height="36"/><text class="t" x="396" y="893" text-anchor="middle" textLength="127" lengthAdjust="spacingAndGlyphs">11 : <tspan class="tt">cnt</tspan><tspan class="sp">2</tspan> ≤ 0</text></g>
<g id="e4"><rect class="rb" x="27" y="930" width="127" height="43" rx="8"/><text class="t" x="90.5" y="958.5" text-anchor="middle" textLength="116" lengthAdjust="spacingAndGlyphs">4 : 1 ≤ <tspan class="tt">cnt</tspan><tspan class="sp">3</tspan></text></g>
<g id="e8"><rect class="sq" x="162" y="930" width="159" height="36"/><text class="t" x="241.5" y="955" text-anchor="middle" textLength="144" lengthAdjust="spacingAndGlyphs">8 :<tspan class="tt">cnt</tspan><tspan class="sp">3</tspan> ≤ <tspan class="tt">cnt</tspan><tspan class="sp">2</tspan></text></g>
<g id="e10"><rect class="rb" x="327" y="932" width="138" height="43" rx="8"/><text class="t" x="396" y="960.5" text-anchor="middle" textLength="127" lengthAdjust="spacingAndGlyphs">10 : <tspan class="tt">cnt</tspan><tspan class="sp">2</tspan> ≤ 0</text></g>
<g id="e12"><rect class="sq" x="511" y="935" width="108" height="32"/><text class="t" x="565" y="958" text-anchor="middle" textLength="93" lengthAdjust="spacingAndGlyphs">12 : 0 ≤ 0</text></g>
<g id="e3"><rect class="rb" x="27" y="997" width="127" height="43" rx="8"/><text class="t" x="90.5" y="1025.5" text-anchor="middle" textLength="116" lengthAdjust="spacingAndGlyphs">3 : 1 ≤ <tspan class="tt">cnt</tspan><tspan class="sp">2</tspan></text></g>
<g id="e9"><rect class="rb" x="332" y="1000" width="127" height="43" rx="8"/><text class="t" x="395.5" y="1028.5" text-anchor="middle" textLength="116" lengthAdjust="spacingAndGlyphs">9 : <tspan class="tt">cnt</tspan><tspan class="sp">2</tspan> ≤ 0</text></g>
<g id="e13"><rect class="sq" x="511" y="1010" width="108" height="33"/><text class="t" x="565" y="1033.5" text-anchor="middle" textLength="93" lengthAdjust="spacingAndGlyphs">13 : 0 ≤ 0</text></g>
<g id="e2"><rect class="rb" x="349" y="1068" width="94" height="43" rx="8"/><text class="t" x="396" y="1096.5" text-anchor="middle" textLength="83" lengthAdjust="spacingAndGlyphs">2 : 1 ≤ 0</text></g>
<g id="e17"><rect class="sq" x="697" y="862" width="108" height="32"/><text class="t" x="751" y="885" text-anchor="middle" textLength="93" lengthAdjust="spacingAndGlyphs">17 : 0 ≤ 0</text></g>
<g id="e16"><rect class="rb" x="698" y="924" width="106" height="43" rx="8"/><text class="t" x="751" y="952.5" text-anchor="middle" textLength="95" lengthAdjust="spacingAndGlyphs">16 : 0 ≤ 0</text></g>
<g id="e18"><rect class="sq" x="855" y="931" width="109" height="32"/><text class="t" x="909.5" y="954" text-anchor="middle" textLength="94" lengthAdjust="spacingAndGlyphs">18 : 0 ≤ 0</text></g>
<g id="e15"><rect class="rb" x="698" y="992" width="106" height="44" rx="8"/><text class="t" x="751" y="1021" text-anchor="middle" textLength="95" lengthAdjust="spacingAndGlyphs">15 : 0 ≤ 0</text></g>
<g id="e22"><rect class="sq" x="1017" y="797" width="109" height="32"/><text class="t" x="1071.5" y="820" text-anchor="middle" textLength="94" lengthAdjust="spacingAndGlyphs">22 : 0 ≤ 0</text></g>
<g id="e21"><rect class="rb" x="1019" y="859" width="105" height="43" rx="8"/><text class="t" x="1071.5" y="887.5" text-anchor="middle" textLength="94" lengthAdjust="spacingAndGlyphs">21 : 0 ≤ 0</text></g>
<g id="e23"><rect class="sq" x="1201" y="862" width="109" height="32"/><text class="t" x="1255.5" y="885" text-anchor="middle" textLength="94" lengthAdjust="spacingAndGlyphs">23 : 0 ≤ 0</text></g>
<g id="e20"><rect class="rb" x="1019" y="927" width="105" height="43" rx="8"/><text class="t" x="1071.5" y="955.5" text-anchor="middle" textLength="94" lengthAdjust="spacingAndGlyphs">20 : 0 ≤ 0</text></g>
<g id="e24"><rect class="sq" x="1201" y="930" width="109" height="32"/><text class="t" x="1255.5" y="953" text-anchor="middle" textLength="94" lengthAdjust="spacingAndGlyphs">24 : 0 ≤ 0</text></g>
<g id="e19"><rect class="rb" x="1019" y="995" width="105" height="43" rx="8"/><text class="t" x="1071.5" y="1023.5" text-anchor="middle" textLength="94" lengthAdjust="spacingAndGlyphs">19 : 0 ≤ 0</text></g>
<g id="e25"><rect class="sq" x="1209" y="1002" width="109" height="32"/><text class="t" x="1263.5" y="1025" text-anchor="middle" textLength="94" lengthAdjust="spacingAndGlyphs">25 : 0 ≤ 0</text></g>
<g id="e14"><rect class="rb" x="1019" y="1063" width="105" height="43" rx="8"/><text class="t" x="1071.5" y="1091.5" text-anchor="middle" textLength="94" lengthAdjust="spacingAndGlyphs">14 : 0 ≤ 0</text></g>
<g id="e26"><rect class="sq" x="1184" y="1076" width="108" height="32"/><text class="t" x="1238" y="1099" text-anchor="middle" textLength="93" lengthAdjust="spacingAndGlyphs">26 : 0 ≤ 0</text></g>
<g id="e1"><rect class="rb" x="1025" y="1130" width="93" height="43" rx="8"/><text class="t" x="1071.5" y="1158.5" text-anchor="middle" textLength="82" lengthAdjust="spacingAndGlyphs">1 : 1 ≤ 0</text></g>

<!-- Panel (f) nodes -->
<g id="f6"><rect class="sq" x="106" y="1187" width="214" height="38"/><text class="t" x="213" y="1212" text-anchor="middle" textLength="199" lengthAdjust="spacingAndGlyphs">6 : <tspan class="i">φ</tspan><tspan class="sb i">init</tspan>(<tspan class="i">V</tspan><tspan class="sp" dx="2">4</tspan><tspan class="sb i" dx="-9.5">G</tspan>, <tspan class="i">V</tspan><tspan class="sp" dx="2">4</tspan><tspan class="sb" dx="-9.5">1</tspan>, <tspan class="i">V</tspan><tspan class="sp" dx="2">I</tspan><tspan class="sb" dx="-7">2</tspan>)</text></g>
<g id="f5"><rect class="rb" x="125" y="1252" width="177" height="43" rx="8"/><text class="t" x="213.5" y="1279.5" text-anchor="middle" textLength="166" lengthAdjust="spacingAndGlyphs">5 : “<tspan class="i">m</tspan><tspan class="sb">1</tspan>”(<tspan class="i">V</tspan><tspan class="sp" dx="2">4</tspan><tspan class="sb i" dx="-9.5">G</tspan>, <tspan class="i">V</tspan><tspan class="sp" dx="2">4</tspan><tspan class="sb" dx="-9.5">1</tspan>)</text></g>
<g id="f7"><rect class="sq" x="319" y="1258" width="323" height="39"/><text class="t" x="480.5" y="1283.5" text-anchor="middle" textLength="308" lengthAdjust="spacingAndGlyphs">7 : <tspan class="i">ρ</tspan><tspan class="sb">0</tspan>(<tspan class="i">V</tspan><tspan class="sp" dx="2">4</tspan><tspan class="sb i" dx="-9.5">G</tspan>, <tspan class="i">V</tspan><tspan class="sp" dx="2">4</tspan><tspan class="sb" dx="-9.5">1</tspan>, <tspan class="i">V</tspan><tspan class="sp" dx="2">II</tspan><tspan class="sb" dx="-12">2</tspan><tspan dx="4.5">, </tspan><tspan class="i">V</tspan><tspan class="sp" dx="2">3</tspan><tspan class="sb i" dx="-9.5">G</tspan>, <tspan class="i">V</tspan><tspan class="sp" dx="2">3</tspan><tspan class="sb" dx="-9.5">1</tspan>, <tspan class="i">V</tspan><tspan class="sp" dx="2">III</tspan><tspan class="sb" dx="-17">2</tspan><tspan dx="9.5">)</tspan></text></g>
<g id="f4"><rect class="rb" x="125" y="1320" width="177" height="43" rx="8"/><text class="t" x="213.5" y="1347.5" text-anchor="middle" textLength="166" lengthAdjust="spacingAndGlyphs">4 : “<tspan class="i">m</tspan><tspan class="sb">2</tspan>”(<tspan class="i">V</tspan><tspan class="sp" dx="2">3</tspan><tspan class="sb i" dx="-9.5">G</tspan>, <tspan class="i">V</tspan><tspan class="sp" dx="2">3</tspan><tspan class="sb" dx="-9.5">1</tspan>)</text></g>
<g id="f8"><rect class="sq" x="319" y="1326" width="323" height="40"/><text class="t" x="480.5" y="1352" text-anchor="middle" textLength="308" lengthAdjust="spacingAndGlyphs">8 : <tspan class="i">ρ</tspan><tspan class="sb">1</tspan>(<tspan class="i">V</tspan><tspan class="sp" dx="2">3</tspan><tspan class="sb i" dx="-9.5">G</tspan>, <tspan class="i">V</tspan><tspan class="sp" dx="2">3</tspan><tspan class="sb" dx="-9.5">1</tspan>, <tspan class="i">V</tspan><tspan class="sp" dx="2">IV</tspan><tspan class="sb" dx="-17.8">2</tspan><tspan dx="10.3">, </tspan><tspan class="i">V</tspan><tspan class="sp" dx="2">2</tspan><tspan class="sb i" dx="-9.5">G</tspan>, <tspan class="i">V</tspan><tspan class="sp" dx="2">2</tspan><tspan class="sb" dx="-9.5">1</tspan>, <tspan class="i">V</tspan><tspan class="sp" dx="2">V</tspan><tspan class="sb" dx="-12.8">2</tspan><tspan dx="5.3">)</tspan></text></g>
<g id="f3"><rect class="rb" x="125" y="1388" width="177" height="43" rx="8"/><text class="t" x="213.5" y="1415.5" text-anchor="middle" textLength="166" lengthAdjust="spacingAndGlyphs">3 : “<tspan class="i">m</tspan><tspan class="sb">3</tspan>”(<tspan class="i">V</tspan><tspan class="sp" dx="2">2</tspan><tspan class="sb i" dx="-9.5">G</tspan>, <tspan class="i">V</tspan><tspan class="sp" dx="2">2</tspan><tspan class="sb" dx="-9.5">1</tspan>)</text></g>
<g id="f11"><rect class="sq" x="697" y="1256" width="216" height="39"/><text class="t" x="805" y="1281.5" text-anchor="middle" textLength="201" lengthAdjust="spacingAndGlyphs">11 : <tspan class="i">φ</tspan><tspan class="sb i">init</tspan>(<tspan class="i">V</tspan><tspan class="sp" dx="2">2</tspan><tspan class="sb i" dx="-9.5">G</tspan>, <tspan class="i">V</tspan><tspan class="sp" dx="2">VIII</tspan><tspan class="sb" dx="-27.8">1</tspan><tspan dx="20.3">, </tspan><tspan class="i">V</tspan><tspan class="sp" dx="2">2</tspan><tspan class="sb" dx="-9.5">2</tspan>)</text></g>
<g id="f10"><rect class="rb" x="699" y="1327" width="180" height="43" rx="8"/><text class="t" x="789" y="1354.5" text-anchor="middle" textLength="169" lengthAdjust="spacingAndGlyphs">10 : “<tspan class="i">n</tspan><tspan class="sb">1</tspan>”(<tspan class="i">V</tspan><tspan class="sp" dx="2">2</tspan><tspan class="sb i" dx="-9.5">G</tspan>, <tspan class="i">V</tspan><tspan class="sp" dx="2">2</tspan><tspan class="sb" dx="-9.5">2</tspan>)</text></g>
<g id="f12"><rect class="sq" x="891" y="1327" width="347" height="41"/><text class="t" x="1064.5" y="1353.5" text-anchor="middle" textLength="332" lengthAdjust="spacingAndGlyphs">12 : <tspan class="i">ρ</tspan><tspan class="sb">2</tspan>(<tspan class="i">V</tspan><tspan class="sp" dx="2">2</tspan><tspan class="sb i" dx="-9.5">G</tspan>, <tspan class="i">V</tspan><tspan class="sp" dx="2">VI</tspan><tspan class="sb" dx="-17.8">1</tspan><tspan dx="10.3">, </tspan><tspan class="i">V</tspan><tspan class="sp" dx="2">2</tspan><tspan class="sb" dx="-9.5">2</tspan>, <tspan class="i">V</tspan><tspan class="sp" dx="2">2</tspan><tspan class="sb i" dx="-9.5">G</tspan>, <tspan class="i">V</tspan><tspan class="sp" dx="2">VII</tspan><tspan class="sb" dx="-22.8">1</tspan><tspan dx="15.3">, </tspan><tspan class="i">V</tspan><tspan class="sp" dx="2">1</tspan><tspan class="sb" dx="-9.5">2</tspan>)</text></g>
<g id="f9"><rect class="rb" x="705" y="1391" width="170" height="42" rx="8"/><text class="t" x="790" y="1418" text-anchor="middle" textLength="159" lengthAdjust="spacingAndGlyphs">9 : “<tspan class="i">e</tspan><tspan class="sb">2</tspan>”(<tspan class="i">V</tspan><tspan class="sp" dx="2">2</tspan><tspan class="sb i" dx="-9.5">G</tspan>, <tspan class="i">V</tspan><tspan class="sp" dx="2">1</tspan><tspan class="sb i" dx="-9.5">G</tspan>)</text></g>
<g id="f13"><rect class="sq" x="931" y="1403" width="87" height="28"/><text class="t" x="974.5" y="1424" text-anchor="middle" textLength="72" lengthAdjust="spacingAndGlyphs">13 : . . .</text></g>
<g id="f2"><rect class="rb" x="701" y="1458" width="178" height="44" rx="8"/><text class="t" x="790" y="1486" text-anchor="middle" textLength="167" lengthAdjust="spacingAndGlyphs">2 : “<tspan class="i">m</tspan><tspan class="sb">4</tspan>”(<tspan class="i">V</tspan><tspan class="sp" dx="2">1</tspan><tspan class="sb i" dx="-9.5">G</tspan>, <tspan class="i">V</tspan><tspan class="sp" dx="2">1</tspan><tspan class="sb" dx="-9.5">1</tspan>)</text></g>
</svg>
